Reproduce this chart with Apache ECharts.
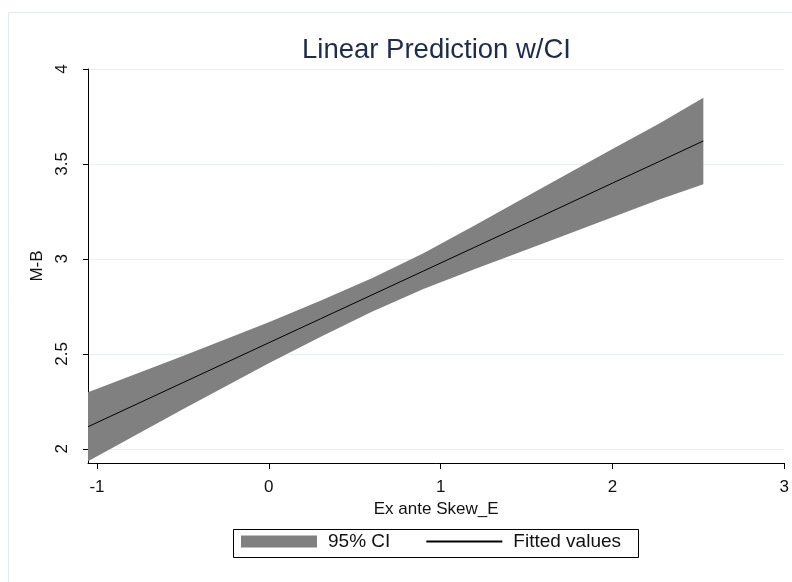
<!DOCTYPE html>
<html>
<head>
<meta charset="utf-8">
<script src="https://cdn.jsdelivr.net/npm/echarts@6/dist/echarts.min.js"></script>
<style>
html,body{margin:0;padding:0;background:#fff;}
#chart{width:792px;height:582px;}
</style>
</head>
<body>
<div id="chart"></div>
<script>
// Data
var xs = [-1.052, -0.5, 0, 0.3, 0.6, 0.9, 1.2, 1.6, 2, 2.273, 2.529];
var fitted = [2.116, 2.348, 2.558, 2.684, 2.810, 2.936, 3.062, 3.230, 3.399, 3.513, 3.621];
var upperCI = [2.298, 2.488, 2.666, 2.779, 2.898, 3.030, 3.177, 3.378, 3.579, 3.713, 3.849];
var lowerCI = [1.934, 2.208, 2.450, 2.589, 2.722, 2.842, 2.947, 3.082, 3.219, 3.313, 3.393];
var xTicks = [-1, 0, 1, 2, 3];
var yTicks = [2, 2.5, 3, 3.5, 4];

var fittedData = xs.map(function (x, i) { return [x, fitted[i]]; });
var bandData = xs.map(function (x, i) { return [x, lowerCI[i], upperCI[i]]; });

var chart = echarts.init(document.getElementById('chart'), null, {renderer: 'canvas'});
var txt = '#111';
var ff = 'Liberation Sans, Arial';
chart.setOption({
  backgroundColor: '#fff',
  animation: false,
  title: {
    text: 'Linear Prediction w/CI',
    left: 297,
    top: 31,
    textStyle: {fontFamily: ff, fontSize: 27.5, fontWeight: 'normal', color: '#1d2b4f'}
  },
  graphic: [
    {type: 'rect', silent: true, z: -10, shape: {x: 8.5, y: 12.5, width: 900, height: 700},
     style: {fill: '#fff', stroke: '#e2ebee', lineWidth: 1}},
    {type: 'rect', silent: true, z: 0, shape: {x: 233.5, y: 529.5, width: 405, height: 28},
     style: {fill: '#fff', stroke: '#000', lineWidth: 1}}
  ],
  legend: {
    left: 241,
    top: 532,
    padding: 0,
    itemWidth: 76,
    itemHeight: 12,
    itemGap: 35,
    z: 5,
    textStyle: {fontFamily: ff, fontSize: 19, color: txt, padding: [0, 0, 0, 6]},
    data: [
      {name: '95% CI', icon: 'rect', itemStyle: {color: '#808080'}},
      {name: 'Fitted values', itemStyle: {color: 'rgba(0,0,0,0)', opacity: 0, borderWidth: 0}}
    ]
  },
  grid: {left: 88, right: 6, top: 69, bottom: 119, containLabel: false},
  xAxis: {
    type: 'value',
    min: -1.052,
    max: 3,
    name: 'Ex ante Skew_E',
    nameLocation: 'middle',
    nameGap: 37,
    nameTextStyle: {fontFamily: ff, fontSize: 17, color: txt},
    axisLine: {show: true, onZero: false, lineStyle: {color: '#000', width: 1}},
    axisTick: {show: true, length: 6, customValues: xTicks, lineStyle: {color: '#000'}},
    axisLabel: {customValues: xTicks, margin: 16, fontFamily: ff, fontSize: 17, color: txt,
      formatter: function (v) { return String(v); }},
    splitLine: {show: false}
  },
  yAxis: {
    type: 'value',
    min: 1.925,
    max: 4,
    name: 'M-B',
    nameLocation: 'middle',
    nameGap: 37,
    nameRotate: 90,
    nameTextStyle: {fontFamily: ff, fontSize: 17, color: txt},
    axisLine: {show: true, onZero: false, lineStyle: {color: '#000', width: 1}},
    axisTick: {show: true, length: 5, customValues: yTicks, lineStyle: {color: '#000'}},
    axisLabel: {customValues: yTicks, rotate: 90, margin: 17, fontFamily: ff, fontSize: 17, color: txt,
      formatter: function (v) { return String(v); }},
    splitLine: {show: true, lineStyle: {color: '#e8f0f1', width: 1}}
  },
  series: [
    {
      name: '95% CI',
      type: 'custom',
      itemStyle: {color: '#808080'},
      data: bandData,
      encode: {x: 0, y: [1, 2]},
      z: 2,
      renderItem: function (params, api) {
        if (params.dataIndex !== 0) return null;
        var pts = [];
        for (var i = 0; i < bandData.length; i++) pts.push(api.coord([bandData[i][0], bandData[i][2]]));
        for (var j = bandData.length - 1; j >= 0; j--) pts.push(api.coord([bandData[j][0], bandData[j][1]]));
        return {type: 'polygon', shape: {points: pts}, style: {fill: '#808080', stroke: null}};
      }
    },
    {
      name: 'Fitted values',
      type: 'line',
      data: fittedData,
      symbol: 'none',
      showSymbol: false,
      z: 3,
      itemStyle: {color: '#000'},
      lineStyle: {color: '#000', width: 1}
    }
  ]
});
</script>
</body>
</html>
